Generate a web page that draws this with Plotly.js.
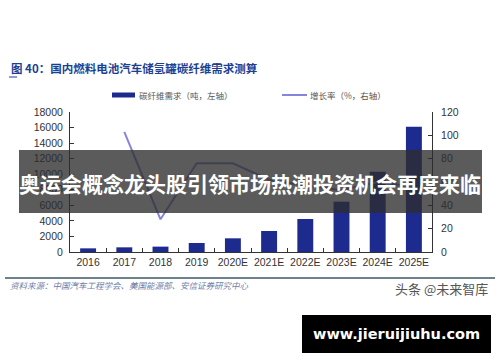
<!DOCTYPE html>
<html>
<head>
<meta charset="utf-8">
<script src="https://cdn.plot.ly/plotly-3.0.1.min.js"></script>
<style>
html,body{margin:0;padding:0;background:#fff;}
#chart{width:500px;height:362px;}
</style>
</head>
<body>
<div id="chart"></div>
<script>
// ---- data ----
const years = ['2016','2017','2018','2019','2020E','2021E','2022E','2023E','2024E','2025E'];
const demand = [470, 600, 690, 1160, 1760, 2700, 4240, 6470, 10320, 16110];   // 吨, 左轴
const growth = [null, 103, 28, 76, 76, 62, 57, 53, 60, 56];                 // %, 右轴
const leftTicks = [0,2000,4000,6000,8000,10000,12000,14000,16000,18000];
const rightTicks = [0,20,40,60,80,100,120];

// ---- texts ----
const titleText = '图 40：国内燃料电池汽车储氢罐碳纤维需求测算';
const barName = '碳纤维需求（吨，左轴）';
const lineName = '增长率（%，右轴）';
const sourceText = '资料来源：中国汽车工程学会、美国能源部、安信证券研究中心';
const bannerText = '奥运会概念龙头股引领市场热潮投资机会再度来临';
const siteText = 'www.jieruijiuhu.com';
const markText = '头条 @未来智库';

// plot area in pixels
const L = 70, R = 432, T = 112, B = 252;
const px = x => (x - L) / (R - L);
const py = y => (B - y) / (B - T);

const cjk = '"Noto Sans CJK SC", "Noto Sans", sans-serif';
const latin = '"Liberation Sans", Arial, sans-serif';

const traces = [
  {
    type: 'bar', x: years, y: demand, name: barName,
    marker: {color: '#1d2b8e'}, yaxis: 'y', showlegend: false,
    hoverinfo: 'skip'
  },
  {
    type: 'scatter', mode: 'lines', x: years, y: growth, name: lineName,
    line: {color: '#8585dc', width: 2}, yaxis: 'y2', showlegend: false,
    connectgaps: false, hoverinfo: 'skip'
  }
];

const layout = {
  width: 500, height: 362,
  margin: {l: L, r: 500 - R, t: T, b: 362 - B, pad: 0},
  paper_bgcolor: '#ffffff', plot_bgcolor: '#ffffff',
  bargap: 0.56,
  font: {family: latin, size: 10.5, color: '#333'},
  xaxis: {
    type: 'category', range: [-0.5, 9.5], tickangle: 0,
    showline: true, linecolor: '#333', linewidth: 1,
    ticks: 'inside', tickson: 'boundaries', ticklen: 4, tickcolor: '#333',
    showgrid: false, zeroline: false, fixedrange: true,
    tickfont: {family: latin, size: 10.5, color: '#333'}
  },
  yaxis: {
    range: [0, 18000], tickvals: leftTicks, ticktext: leftTicks.map(String),
    showline: true, linecolor: '#333', linewidth: 1,
    ticks: 'inside', ticklen: 4, tickcolor: '#333',
    showgrid: false, zeroline: false, fixedrange: true,
    ticklabelstandoff: 4,
    tickfont: {family: latin, size: 10.5, color: '#333'}
  },
  yaxis2: {
    range: [0, 120], tickvals: rightTicks, ticktext: rightTicks.map(String),
    overlaying: 'y', side: 'right',
    showline: true, linecolor: '#333', linewidth: 1,
    ticks: 'inside', ticklen: 4, tickcolor: '#333',
    showgrid: false, zeroline: false, fixedrange: true,
    ticklabelstandoff: 6,
    tickfont: {family: latin, size: 10.5, color: '#333'}
  },
  shapes: [
    {type: 'line', xref: 'paper', yref: 'paper', x0: px(9), x1: px(17), y0: py(77), y1: py(77),
     line: {color: '#1c3f94', width: 1}},
    {type: 'rect', xref: 'paper', yref: 'paper', x0: px(112), x1: px(135), y0: py(97.5), y1: py(92.5),
     fillcolor: '#1d2b8e', line: {width: 0}},
    {type: 'line', xref: 'paper', yref: 'paper', x0: px(282), x1: px(307), y0: py(95), y1: py(95),
     line: {color: '#8585dc', width: 2}},
    {type: 'line', xref: 'paper', yref: 'paper', x0: px(5), x1: px(495), y0: py(278), y1: py(278),
     line: {color: '#3e5866', width: 1.5}},
    {type: 'rect', xref: 'paper', yref: 'paper', x0: px(19), x1: px(482), y0: py(213), y1: py(150),
     fillcolor: 'rgba(45,45,45,0.78)', line: {width: 0}, layer: 'above'},
    {type: 'rect', xref: 'paper', yref: 'paper', x0: px(302), x1: px(491), y0: py(353), y1: py(315),
     fillcolor: '#000000', line: {width: 0}, layer: 'above'}
  ],
  annotations: [
    {text: titleText, xref: 'paper', yref: 'paper', x: px(9), y: py(68), xanchor: 'left', yanchor: 'middle',
     showarrow: false, font: {family: cjk, size: 11.5, color: '#1c3f94', weight: 'bold'}},
    {text: barName, xref: 'paper', yref: 'paper', x: px(137), y: py(95), xanchor: 'left', yanchor: 'middle',
     showarrow: false, font: {family: cjk, size: 8.5, color: '#555'}},
    {text: lineName, xref: 'paper', yref: 'paper', x: px(308), y: py(95), xanchor: 'left', yanchor: 'middle',
     showarrow: false, font: {family: cjk, size: 8.5, color: '#555'}},
    {text: '<i>' + sourceText + '</i>', xref: 'paper', yref: 'paper', x: px(8), y: py(285), xanchor: 'left', yanchor: 'middle',
     showarrow: false, font: {family: cjk, size: 8.5, color: '#6f80a8'}},
    {text: markText, xref: 'paper', yref: 'paper', x: px(490), y: py(288), xanchor: 'right', yanchor: 'middle',
     showarrow: false, font: {family: cjk, size: 13, color: '#555'}},
    {text: bannerText, xref: 'paper', yref: 'paper', x: px(250), y: py(183), xanchor: 'center', yanchor: 'middle',
     showarrow: false, font: {family: cjk, size: 21, color: '#ffffff', weight: 'bold'}},
    {text: siteText, xref: 'paper', yref: 'paper', x: px(396.5), y: py(334), xanchor: 'center', yanchor: 'middle',
     showarrow: false, font: {family: '"DejaVu Sans", sans-serif', size: 14.5, color: '#ffffff', weight: 'bold'}}
  ]
};

Plotly.newPlot('chart', traces, layout, {staticPlot: true, displayModeBar: false});
</script>
</body>
</html>
